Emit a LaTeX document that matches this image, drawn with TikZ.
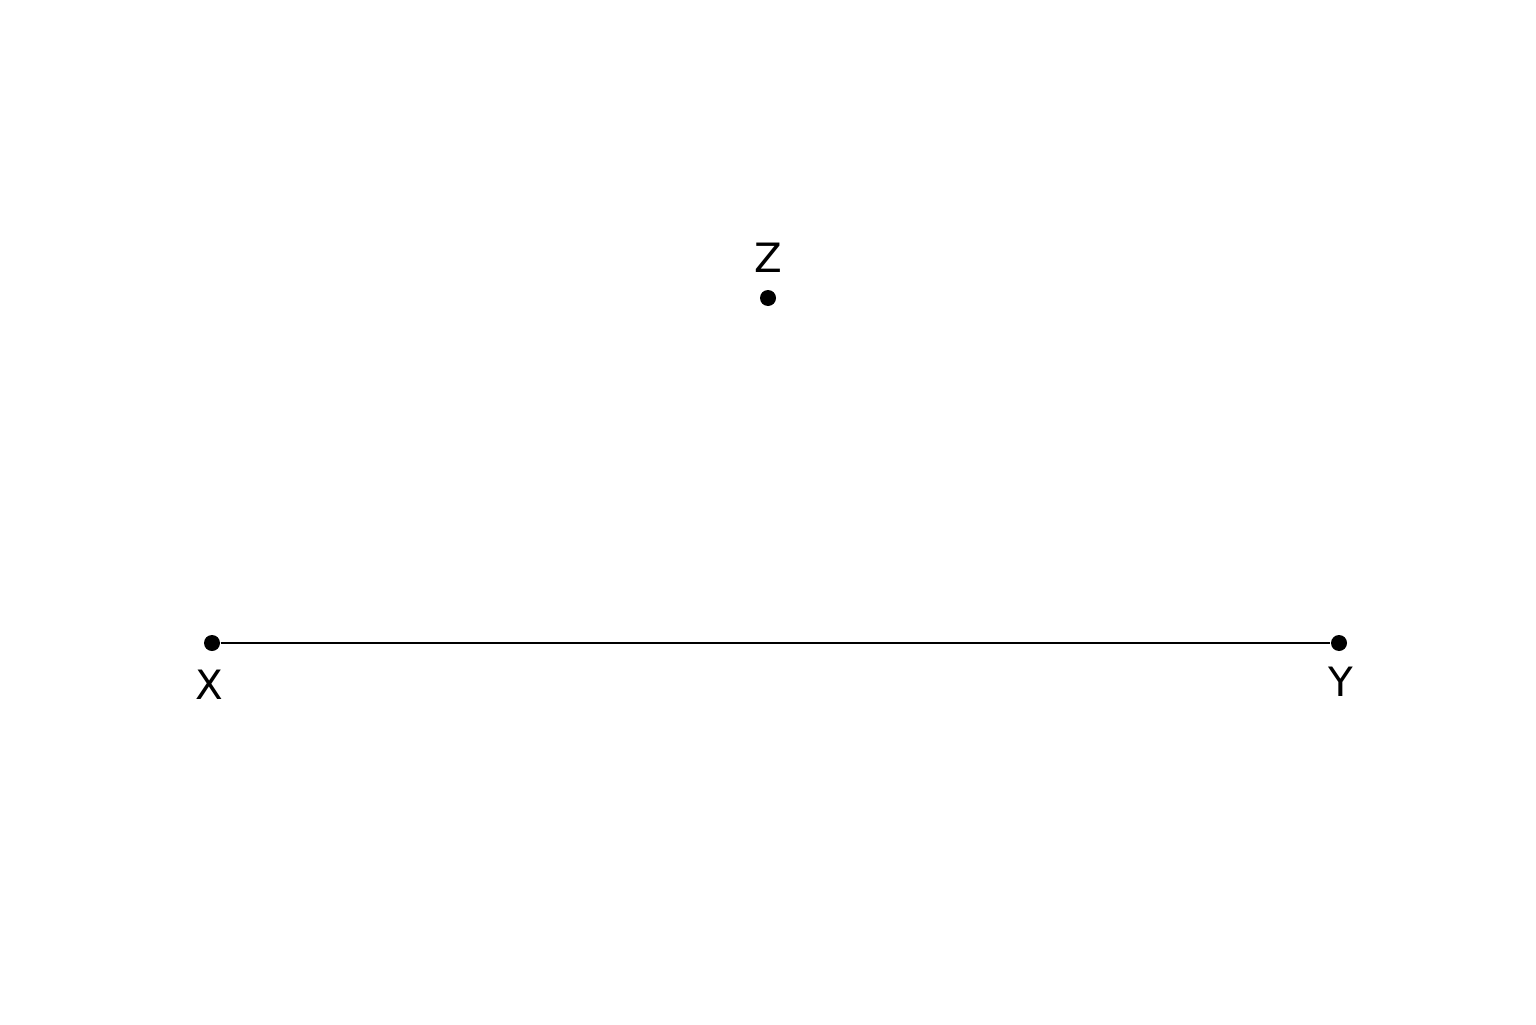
\documentclass[tikz,border=0pt]{standalone}
\usepackage{fontspec}
\setmainfont{DejaVu Sans}
\tikzset{
    pt/.style={fill=black, circle, inner sep=0pt, minimum size=.16cm},
    lbl/.style={font=\fontsize{11.5}{14}\selectfont, inner sep=0pt}
}
\begin{document}
\begin{tikzpicture}
            \useasboundingbox (0,0) rectangle (15.36,10.24);
            \node[pt] (X) at (2.12,3.81) {};
            \node[pt] (Y) at (13.39,3.81) {};
            \node[pt] (Z) at (7.68,7.26) {};
            \draw[line width=.85pt] (X) -- (Y);
            \node[lbl] (labX) at (2.09,3.39) {X};
            \node[lbl] (labY) at (13.41,3.42) {Y};
            \node[lbl] (labZ) at (7.68,7.66) {Z};
        \end{tikzpicture}
\end{document}
